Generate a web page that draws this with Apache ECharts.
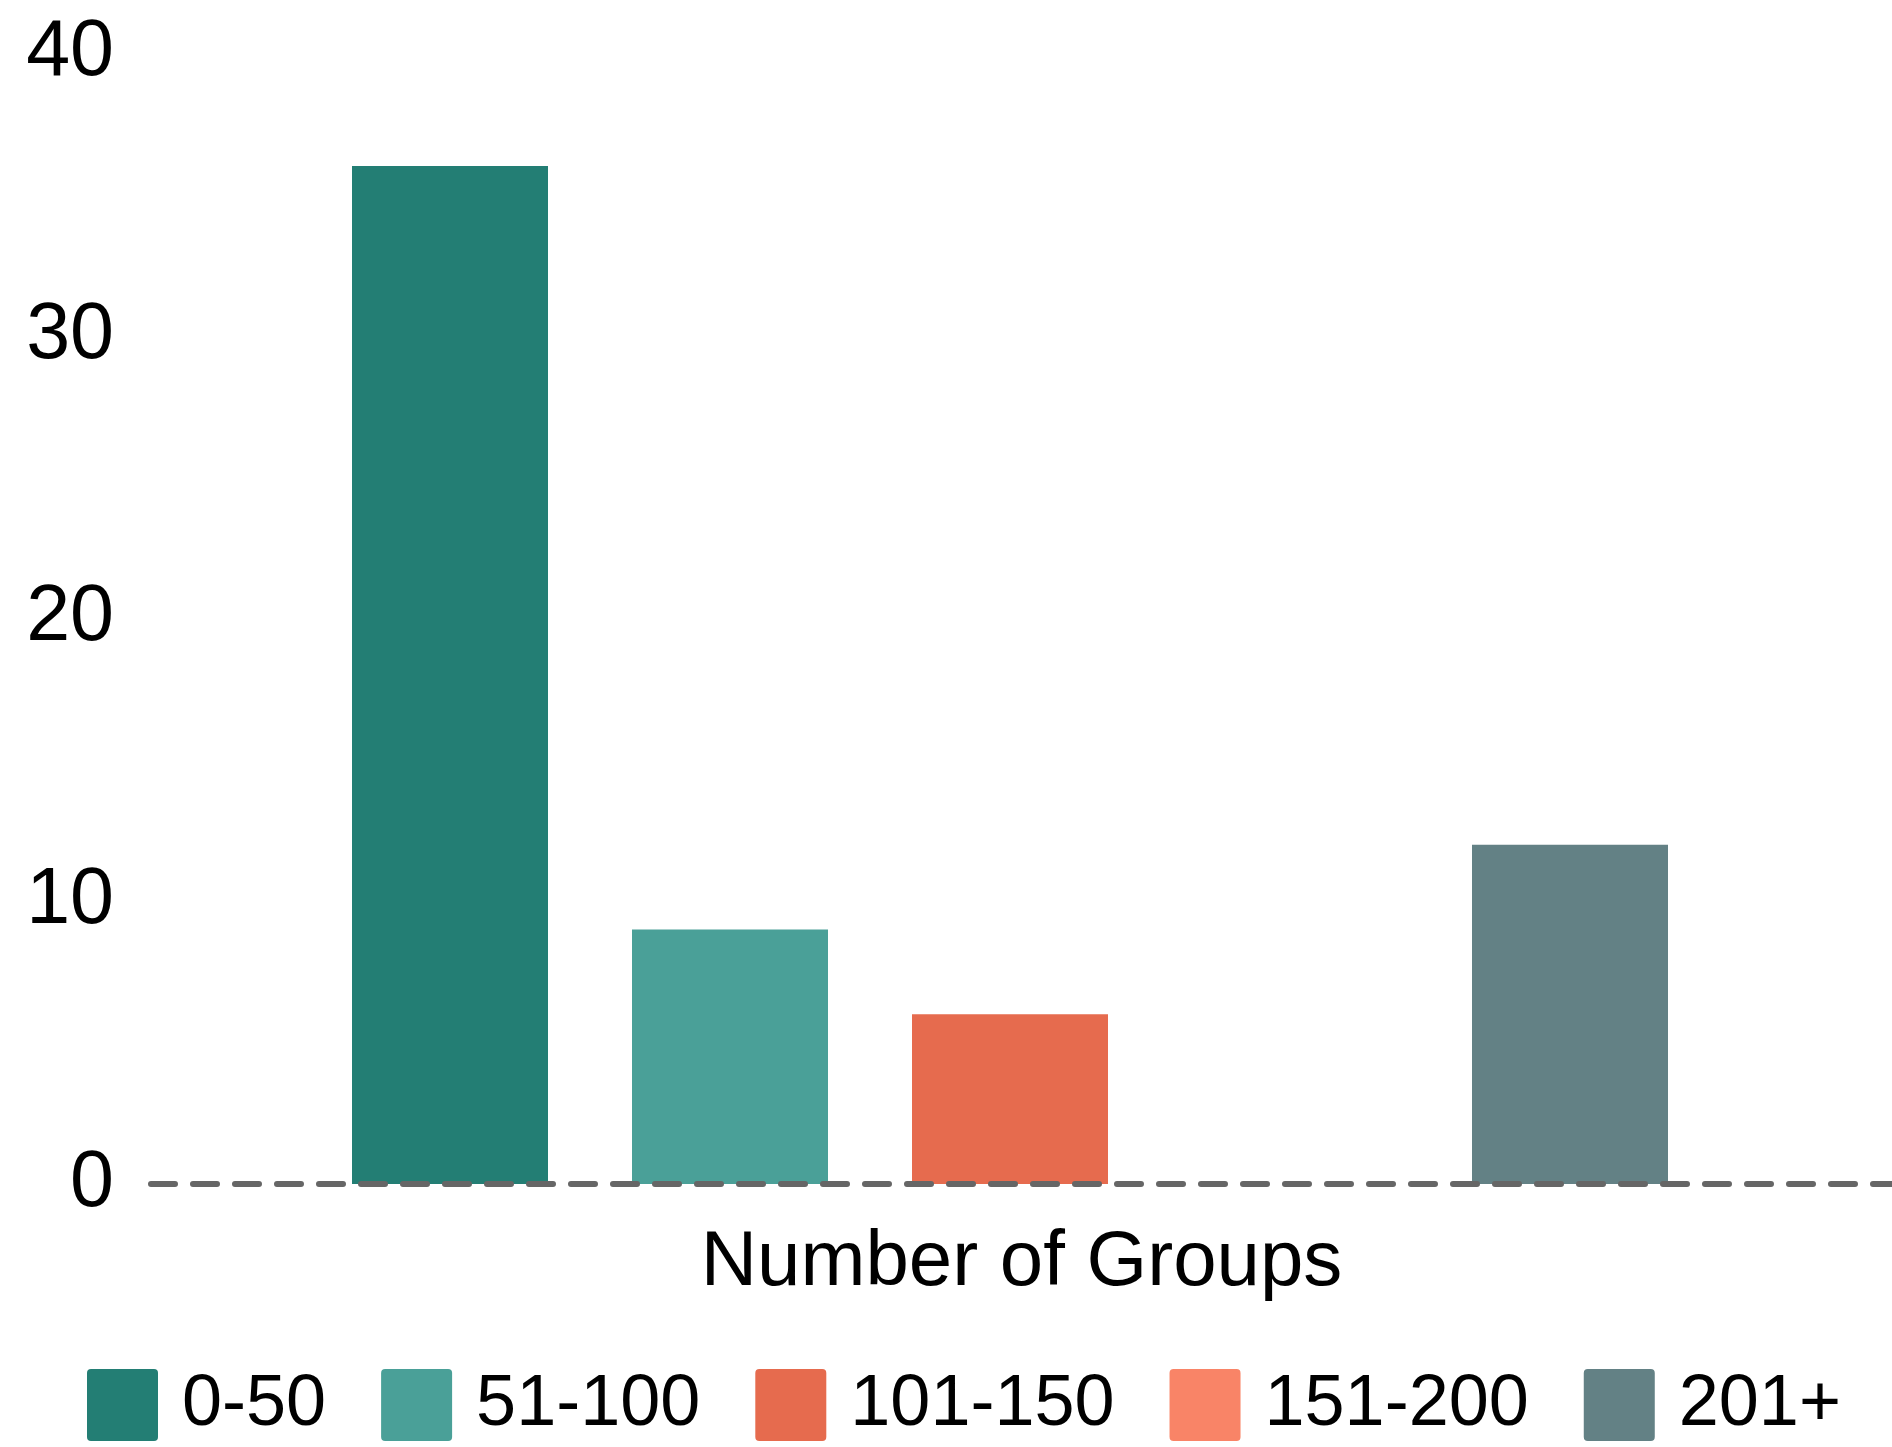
<!DOCTYPE html>
<html>
<head>
<meta charset="utf-8">
<title>Number of Groups</title>
<script src="https://cdn.jsdelivr.net/npm/echarts@6/dist/echarts.min.js"></script>
<style>
  html, body { margin: 0; padding: 0; background: #ffffff; }
  #chart { width: 1892px; height: 1447px; }
</style>
</head>
<body>
<div id="chart"></div>
<script>
// Group-size buckets, one bar per bucket within the single category
const categories = ['Number of Groups'];
const seriesNames = ['0-50', '51-100', '101-150', '151-200', '201+'];
const seriesValues = [36, 9, 6, 0, 12];
const seriesColors = ['#237E74', '#4AA098', '#E66B4E', '#F98467', '#638185'];
const yTicks = { min: 0, max: 40, interval: 10 };

const FONT = '"Liberation Sans", Arial, Helvetica, sans-serif';

const chart = echarts.init(document.getElementById('chart'), null, { renderer: 'canvas' });

const series = seriesNames.map((name, i) => ({
  name: name,
  type: 'bar',
  xAxisIndex: 0,
  yAxisIndex: 0,
  data: [seriesValues[i]],
  barWidth: 196,
  barGap: '42.857%',
  itemStyle: { color: seriesColors[i] },
  emphasis: { disabled: true },
  z: 2
}));

chart.setOption({
  animation: false,
  backgroundColor: '#ffffff',
  textStyle: { fontFamily: FONT },
  legend: {
    data: seriesNames.map((n, i) => ({ name: n, itemStyle: { color: seriesColors[i] } })),
    left: 87,
    top: 1369,
    padding: 0,
    itemWidth: 71,
    itemHeight: 72,
    itemGap: 55,
    icon: 'path://M4,0 L67,0 Q71,0 71,4 L71,68 Q71,72 67,72 L4,72 Q0,72 0,68 L0,4 Q0,0 4,0 Z',
    selectedMode: false,
    textStyle: {
      fontSize: 72,
      color: '#000000',
      fontFamily: FONT,
      padding: [0, 0, 0, 19]
    }
  },
  grid: [
    // plotting area for the bars
    { left: 151, right: 23, top: 53, bottom: 263, containLabel: false },
    // full-width strip carrying the dashed baseline and category label
    { left: 151, right: 0, top: 53, bottom: 263, containLabel: false }
  ],
  xAxis: [
    {
      type: 'category',
      gridIndex: 0,
      data: categories,
      axisLine: { show: false },
      axisTick: { show: false },
      axisLabel: { show: false },
      splitLine: { show: false }
    },
    {
      type: 'category',
      gridIndex: 1,
      data: categories,
      offset: 2,
      axisLine: {
        show: true,
        lineStyle: { color: '#666666', width: 6, type: [24, 18] }
      },
      axisTick: { show: false },
      axisLabel: {
        show: true,
        fontSize: 78,
        color: '#000000',
        fontFamily: FONT,
        margin: 38
      },
      splitLine: { show: false },
      z: 3
    }
  ],
  yAxis: [
    {
      type: 'value',
      gridIndex: 0,
      min: yTicks.min,
      max: yTicks.max,
      interval: yTicks.interval,
      axisLine: { show: false },
      axisTick: { show: false },
      splitLine: { show: false },
      axisLabel: {
        fontSize: 79,
        color: '#000000',
        fontFamily: FONT,
        margin: 37,
        padding: [4, 0, 0, 0]
      }
    },
    {
      type: 'value',
      gridIndex: 1,
      min: yTicks.min,
      max: yTicks.max,
      interval: yTicks.interval,
      show: false
    }
  ],
  series: series
});
</script>
</body>
</html>
